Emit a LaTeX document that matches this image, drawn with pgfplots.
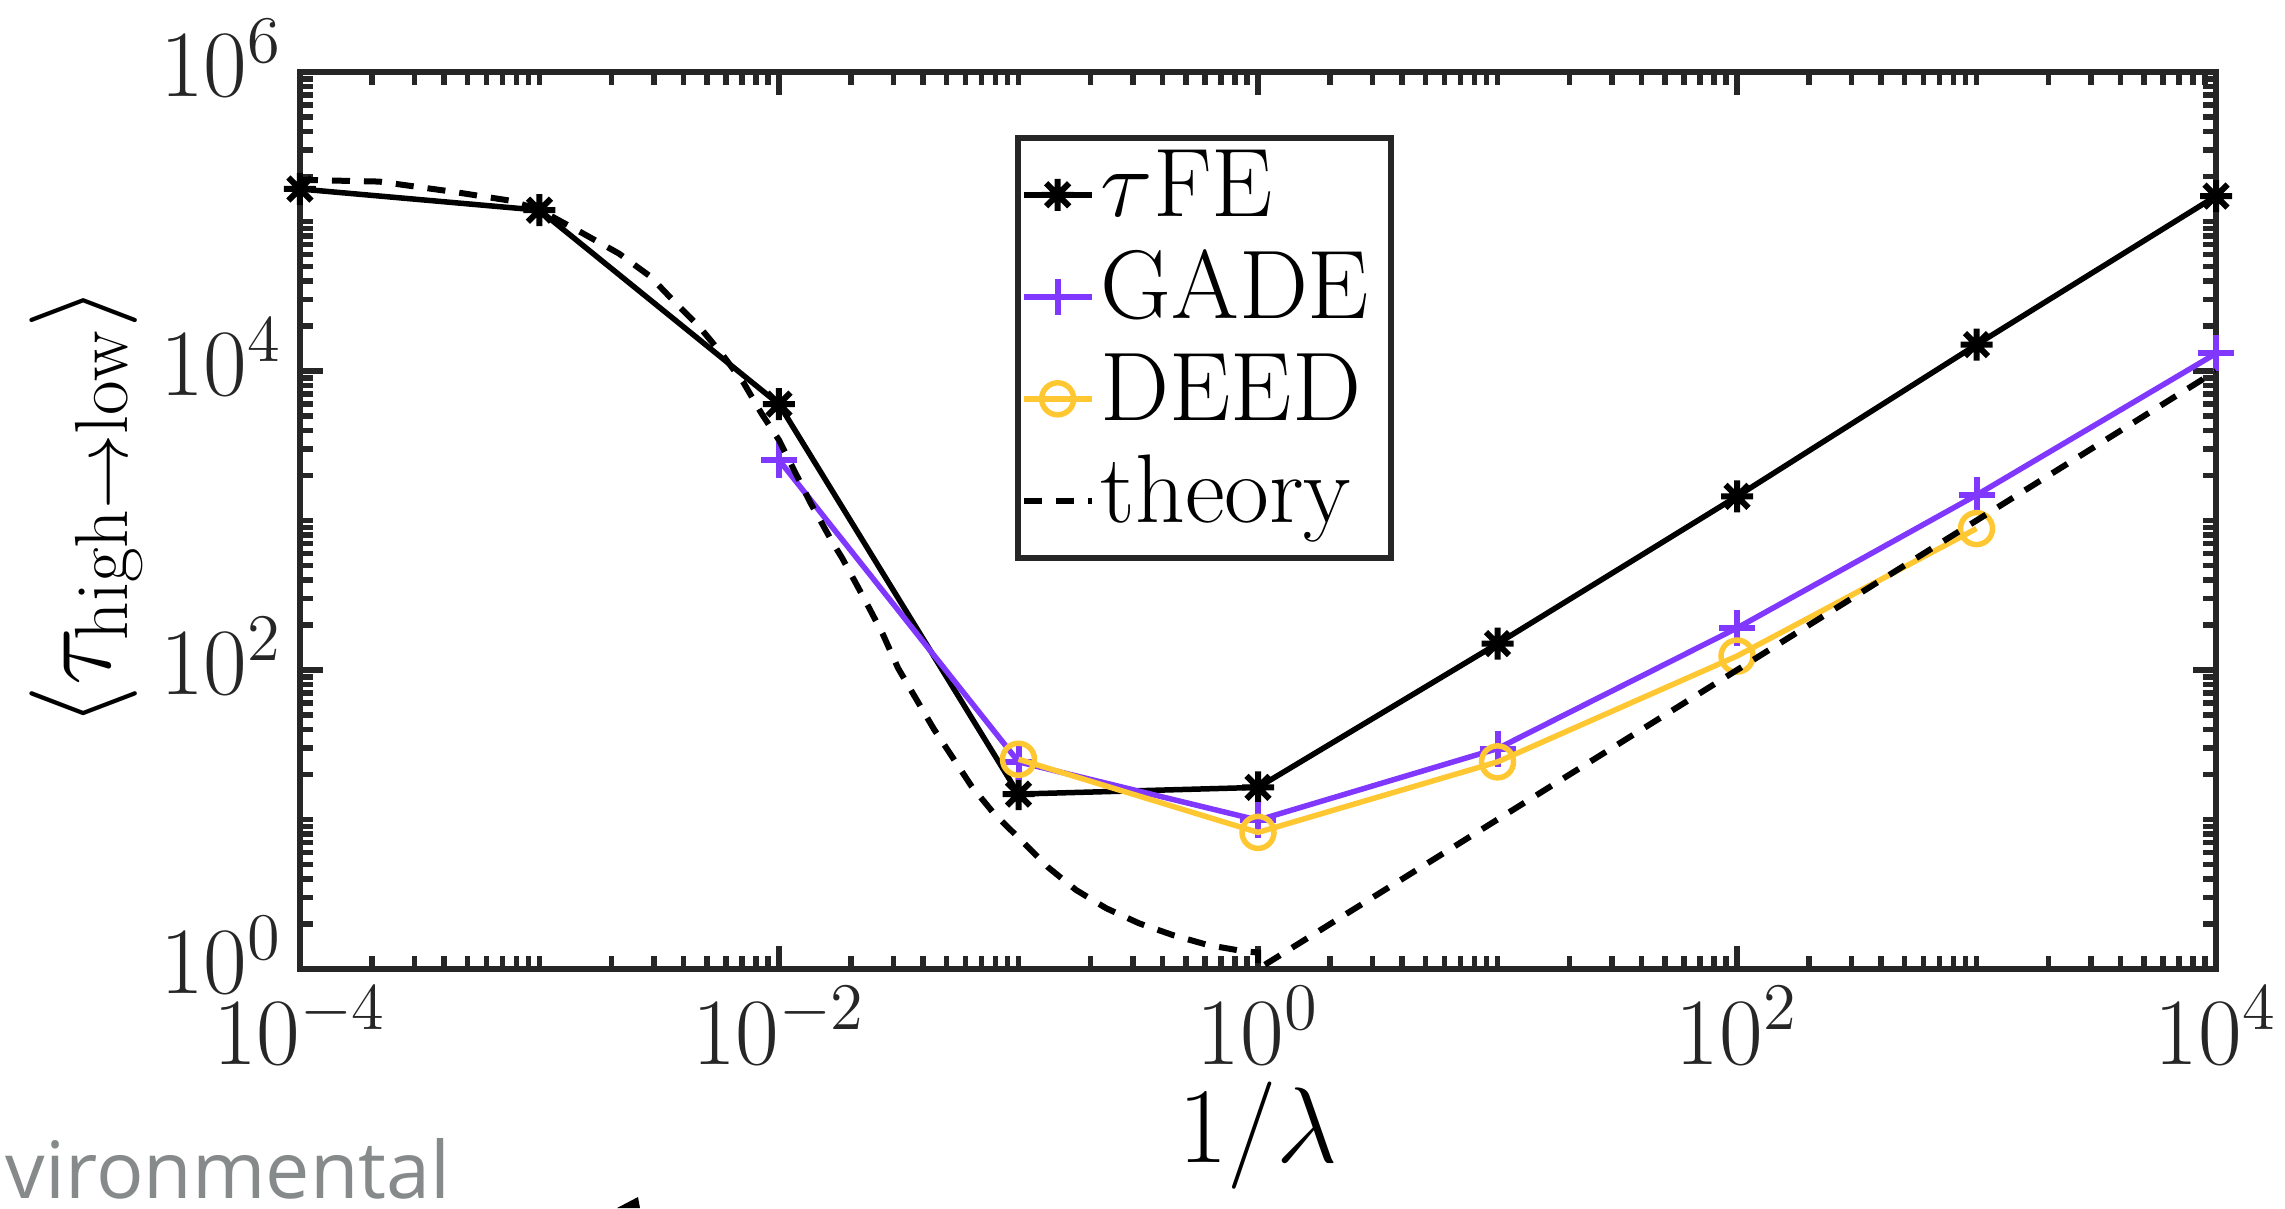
\RequirePackage{fix-cm}
\documentclass[border=0pt]{standalone}
\usepackage{fontspec}
\newfontfamily\graysf{Open Sans}
\usepackage{pgfplots}
\pgfplotsset{compat=1.18}
\definecolor{axcol}{RGB}{38,38,38}
\definecolor{gadecol}{RGB}{128,56,255}
\definecolor{deedcol}{RGB}{255,200,50}
\definecolor{graytxt}{RGB}{135,138,138}
\pgfdeclareplotmark{star8}{%
 \pgfpathmoveto{\pgfqpoint{-\pgfplotmarksize}{0pt}}\pgfpathlineto{\pgfqpoint{\pgfplotmarksize}{0pt}}%
 \pgfpathmoveto{\pgfqpoint{0pt}{-\pgfplotmarksize}}\pgfpathlineto{\pgfqpoint{0pt}{\pgfplotmarksize}}%
 \pgfpathmoveto{\pgfqpoint{-0.72\pgfplotmarksize}{-0.72\pgfplotmarksize}}\pgfpathlineto{\pgfqpoint{0.72\pgfplotmarksize}{0.72\pgfplotmarksize}}%
 \pgfpathmoveto{\pgfqpoint{-0.72\pgfplotmarksize}{0.72\pgfplotmarksize}}\pgfpathlineto{\pgfqpoint{0.72\pgfplotmarksize}{-0.72\pgfplotmarksize}}%
 \pgfusepathqstroke}
\begin{document}
\begin{tikzpicture}
\begin{axis}[
  name=ax, scale only axis, width=383.2pt, height=179.4pt,
  xmode=log, ymode=log, xmin=1e-4, xmax=1e4, ymin=1, ymax=1e6,
  xtick={1e-4,1e-2,1,1e2,1e4}, ytick={1,1e2,1e4,1e6},
  minor xtick={2e-4,3e-4,4e-4,5e-4,6e-4,7e-4,8e-4,9e-4,1e-3,2e-3,3e-3,4e-3,5e-3,6e-3,7e-3,8e-3,9e-3,2e-2,3e-2,4e-2,5e-2,6e-2,7e-2,8e-2,9e-2,1e-1,2e-1,3e-1,4e-1,5e-1,6e-1,7e-1,8e-1,9e-1,2,3,4,5,6,7,8,9,10,20,30,40,50,60,70,80,90,200,300,400,500,600,700,800,900,1000,2000,3000,4000,5000,6000,7000,8000,9000},
  minor ytick={2,3,4,5,6,7,8,9,10,20,30,40,50,60,70,80,90,200,300,400,500,600,700,800,900,1000,2000,3000,4000,5000,6000,7000,8000,9000,2e4,3e4,4e4,5e4,6e4,7e4,8e4,9e4,1e5,2e5,3e5,4e5,5e5,6e5,7e5,8e5,9e5},
  tick align=inside,
  major tick length=4.6pt, minor tick length=2.6pt,
  every tick/.style={color=axcol, line width=1.1pt},
  axis line style={color=axcol, line width=1.2pt},
  ticklabel style={font=\fontsize{19}{23}\selectfont, text=axcol},
  yticklabel style={yshift=2.8pt},
  xlabel={$1/\lambda$},
  ylabel={$\langle\tau_{\mathrm{high}\rightarrow\mathrm{low}}\rangle$},
  every axis x label/.style={at={(ticklabel cs:0.5)}, anchor=north, inner sep=0pt, font=\fontsize{21.5}{26}\selectfont},
  every axis y label/.style={at={(ticklabel cs:0.515)}, rotate=90, anchor=south, inner sep=0pt, font=\fontsize{21.5}{26}\selectfont},
  clip mode=individual,
  legend image code/.code={\draw[mark repeat=2,mark phase=2] plot coordinates {(0pt,0pt) (6.8pt,0pt) (13.6pt,0pt)};},
  legend style={at={(0.373,0.93)}, anchor=north west, draw=axcol, line width=1.2pt, fill=white,
    font=\fontsize{19.5}{23}\selectfont, inner xsep=0.6pt, inner ysep=1.6pt, row sep=0.8pt,
    nodes={inner xsep=1.2pt, inner ysep=0pt, text height=14.2pt, text depth=5.4pt}},
  legend cell align=left,
]
\addplot[black, line width=1.1pt, mark=star8, mark size=3.2pt, mark options={solid, line width=1.2pt}] coordinates {
 (1e-4,1.65e5) (1e-3,1.19e5) (1e-2,6.0e3) (1e-1,14.8) (1,16.4) (10,150) (100,1450) (1000,1.5e4) (1e4,1.48e5)};
\addlegendentry{$\tau$FE\hspace*{2.6pt}}
\addplot[gadecol, line width=1.1pt, mark=+, mark size=3.6pt, mark options={solid, line width=1.2pt}] coordinates {
 (1e-2,2540) (1e-1,24.3) (1,9.9) (10,29.8) (100,191) (1000,1480) (1e4,1.31e4)};
\addlegendentry{GADE\hspace*{2.6pt}}
\addplot[deedcol, line width=1.1pt, mark=o, mark size=3.2pt, mark options={solid, line width=1.1pt}] coordinates {
 (1e-1,25.3) (1,8.2) (10,24.3) (100,124) (1000,883)};
\addlegendentry{DEED\hspace*{2.6pt}}
\addplot[black, line width=1.2pt, dash pattern=on 3.6pt off 2.8pt] coordinates {
 (1e-4,1.9e5) (2.14e-4,1.85e5) (4.37e-4,1.58e5) (7.52e-4,1.38e5) (1e-3,1.2e5)
 (1.524e-3,8.3e4) (2.148e-3,6.1e4) (2.897e-3,4.3e4) (3.589e-3,3.0e4) (4.645e-3,1.98e4)
 (5.754e-3,1.31e4) (7.129e-3,8.3e3) (8.453e-3,5.2e3) (1e-2,3.45e3) (1.358e-2,1.3e3)
 (1.683e-2,703) (1.837e-2,560) (2.275e-2,298) (2.704e-2,176) (3.141e-2,103)
 (3.811e-2,60.8) (4.436e-2,40.2) (5.26e-2,26.6) (6.383e-2,16.6) (7.889e-2,11.0)
 (0.1057,6.93) (0.1321,4.83) (0.1738,3.38) (0.2323,2.55) (0.3192,2.02)
 (0.4395,1.69) (0.6152,1.45) (0.881,1.31) (1,1.29) (1,1.0)
 (10,10) (100,100) (1000,1000) (1e4,1e4)};
\addlegendentry{theory\hspace*{2.6pt}}
\end{axis}
\node[anchor=base west, inner sep=0pt, text=graytxt, font=\graysf\fontsize{15.8}{19}\selectfont] at ([shift={(-59pt,-45.8pt)}]ax.south west) {vironmental};
\fill[black] ([shift={(63.4pt,-47.8pt)}]ax.south west) -- ([shift={(67.6pt,-45.6pt)}]ax.south west) -- ([shift={(68pt,-47.8pt)}]ax.south west) -- cycle;
\pgfresetboundingbox
\useasboundingbox ([shift={(-60pt,-47.8pt)}]ax.south west) rectangle ([shift={(13.8pt,14.4pt)}]ax.north east);
\end{tikzpicture}
\end{document}
